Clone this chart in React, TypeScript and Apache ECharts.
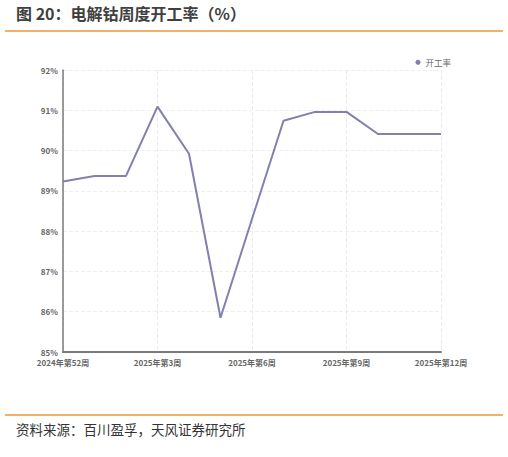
import React, { useEffect, useRef } from "react";
import * as echarts from "echarts";

const categories = [
  "2024年第52周",
  "2025年第1周",
  "2025年第2周",
  "2025年第3周",
  "2025年第4周",
  "2025年第5周",
  "2025年第6周",
  "2025年第7周",
  "2025年第8周",
  "2025年第9周",
  "2025年第10周",
  "2025年第11周",
  "2025年第12周",
];
const utilization = [89.23, 89.37, 89.37, 91.09, 89.92, 85.85, 88.3, 90.74, 90.96, 90.96, 90.41, 90.41, 90.41];
const seriesName = "开工率";
const titleText = "图 20：电解钴周度开工率（%）";
const sourceText = "资料来源：百川盈孚，天风证券研究所";

export default function App() {
  const ref = useRef<HTMLDivElement>(null);
  useEffect(() => {
    if (!ref.current) return;
    const chart = echarts.init(ref.current, null, { renderer: "svg" });
    const font = "'Noto Sans CJK SC', 'Noto Sans', sans-serif";
    chart.setOption({
      animation: false,
      backgroundColor: "#ffffff",
      textStyle: { fontFamily: font },
      grid: { left: 63, right: 67, top: 70, bottom: 105, containLabel: false },
      legend: {
        data: [seriesName],
        right: 52,
        top: 53,
        icon: "circle",
        itemWidth: 5,
        itemHeight: 5,
        itemGap: 4,
        textStyle: { color: "#666", fontSize: 8.5, fontFamily: font },
      },
      xAxis: {
        type: "category",
        data: categories,
        boundaryGap: false,
        axisLine: { show: true, lineStyle: { color: "#7a7a7a", width: 2 } },
        axisTick: { show: false },
        axisLabel: {
          interval: 2,
          color: "#666",
          fontSize: 8,
          fontWeight: "bold",
          margin: 6,
          fontFamily: font,
        },
        splitLine: {
          show: true,
          interval: 2,
          lineStyle: { color: "#ebebeb", type: "dashed", width: 1 },
        },
      },
      yAxis: {
        type: "value",
        min: 85,
        max: 92,
        interval: 1,
        axisLine: { show: true, lineStyle: { color: "#7a7a7a", width: 1.5 } },
        axisTick: { show: false },
        axisLabel: {
          formatter: "{value}%",
          color: "#666",
          fontSize: 8,
          fontWeight: "bold",
          margin: 5,
          fontFamily: font,
        },
        splitLine: { show: true, lineStyle: { color: "#efefef", type: "dashed", width: 1 } },
      },
      series: [
        {
          name: seriesName,
          type: "line",
          data: utilization,
          symbol: "none",
          itemStyle: { color: "#8180ae" },
          lineStyle: { color: "#8180ae", width: 2 },
        },
      ],
      graphic: [
        {
          type: "text",
          left: 16,
          top: 5,
          style: {
            text: titleText,
            fill: "#404040",
            fontSize: 16,
            fontWeight: "bold",
            fontFamily: font,
          },
        },
        {
          type: "line",
          shape: { x1: 5, y1: 31, x2: 503, y2: 31 },
          style: { stroke: "#f0953a", lineWidth: 1.5 },
        },
        {
          type: "line",
          shape: { x1: 5, y1: 415, x2: 503, y2: 415 },
          style: { stroke: "#f0953a", lineWidth: 1.5 },
        },
        {
          type: "text",
          left: 16,
          top: 422,
          style: {
            text: sourceText,
            fill: "#333",
            fontSize: 13.5,
            fontFamily: font,
          },
        },
      ],
    });
    return () => chart.dispose();
  }, []);
  return (
    <div
      ref={ref}
      style={{ position: "fixed", left: 0, top: 0, width: 508, height: 457 }}
    />
  );
}
